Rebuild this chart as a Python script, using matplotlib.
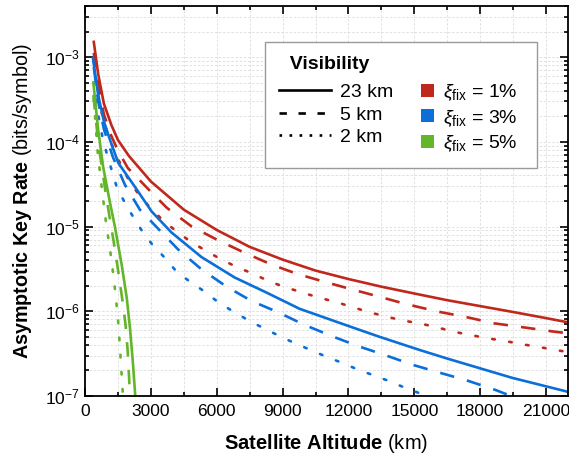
import numpy as np
import matplotlib
matplotlib.use("Agg")
import matplotlib.pyplot as plt
from matplotlib.lines import Line2D
from matplotlib.patches import Patch, Rectangle
from matplotlib.legend_handler import HandlerBase
from matplotlib.ticker import MultipleLocator

#************************** Data *********************
# xi_fix = 1 %
red_solid_x = [400, 600, 860, 1200, 1500, 2000, 3000, 4500, 6000, 7500, 9000, 10500, 12000, 13500, 15000, 16500, 18000, 19500, 21000, 22000]
red_solid_y = [1.51e-3, 6.3e-4, 2.82e-4, 1.58e-4, 1.05e-4, 6.8e-5, 3.4e-5, 1.58e-5, 9.1e-6, 5.75e-6, 4.07e-6, 3.02e-6, 2.4e-6, 1.95e-6, 1.62e-6, 1.35e-6, 1.15e-6, 9.8e-7, 8.3e-7, 7.4e-7]
red_dash_x = [400, 600, 860, 1200, 1500, 1950, 3000, 3730, 4860, 6050, 7270, 8500, 9680, 11000, 12270, 13550, 14550, 16000, 17400, 18640, 19900, 21360, 22000]
red_dash_y = [1.12e-3, 4.7e-4, 2.1e-4, 1.17e-4, 7.9e-5, 4.9e-5, 2.57e-5, 1.66e-5, 1.0e-5, 6.9e-6, 4.9e-6, 3.55e-6, 2.75e-6, 2.19e-6, 1.78e-6, 1.45e-6, 1.23e-6, 1.0e-6, 8.5e-7, 7.2e-7, 6.5e-7, 5.75e-7, 5.5e-7]
red_dot_x = [400, 600, 860, 1360, 2050, 2500, 3050, 3600, 4230, 4860, 5550, 6270, 6950, 7680, 8410, 9180, 9910, 10640, 11410, 12180, 12910, 13680, 14450, 15230, 16000, 16770, 17550, 18320, 19050, 19860, 20640, 21410, 22000]
red_dot_y = [8.9e-4, 3.55e-4, 1.66e-4, 7.4e-5, 3.3e-5, 2.3e-5, 1.58e-5, 1.15e-5, 8.5e-6, 6.5e-6, 5.1e-6, 4.0e-6, 3.3e-6, 2.75e-6, 2.24e-6, 1.9e-6, 1.66e-6, 1.45e-6, 1.29e-6, 1.12e-6, 9.8e-7, 8.7e-7, 7.8e-7, 7.2e-7, 6.5e-7, 5.75e-7, 5.25e-7, 4.8e-7, 4.5e-7, 4.1e-7, 3.8e-7, 3.5e-7, 3.3e-7]

# xi_fix = 3 %
blue_solid_x = [360, 600, 860, 1140, 1520, 2270, 3030, 3940, 5300, 6820, 8270, 9770, 12180, 13410, 15230, 16450, 19450, 22000]
blue_solid_y = [9.8e-4, 3.55e-4, 1.74e-4, 1.05e-4, 5.6e-5, 2.95e-5, 1.51e-5, 8.5e-6, 4.37e-6, 2.5e-6, 1.66e-6, 1.07e-6, 6.45e-7, 5.0e-7, 3.5e-7, 2.79e-7, 1.64e-7, 1.12e-7]
blue_dash_x = [400, 600, 860, 1270, 1820, 2500, 3270, 4230, 5320, 6450, 7590, 8770, 10000, 11230, 12410, 13730, 14910, 16230, 17450, 18730, 19400]
blue_dash_y = [7.6e-4, 3.0e-4, 1.41e-4, 6.6e-5, 3.1e-5, 1.58e-5, 9.8e-6, 5.4e-6, 3.1e-6, 1.95e-6, 1.32e-6, 9.8e-7, 6.9e-7, 5.1e-7, 3.9e-7, 3.0e-7, 2.34e-7, 1.86e-7, 1.51e-7, 1.17e-7, 1.0e-7]
blue_dot_x = [400, 600, 800, 1000, 1450, 1820, 2200, 2640, 3050, 3600, 4140, 4770, 5400, 6050, 6730, 7450, 8140, 8860, 9550, 10270, 11000, 11730, 12450, 13180, 13910, 14640, 15360, 15500]
blue_dot_y = [5.0e-4, 2.1e-4, 1.12e-4, 7.1e-5, 2.9e-5, 1.9e-5, 1.29e-5, 8.5e-6, 6.2e-6, 4.37e-6, 3.0e-6, 2.24e-6, 1.74e-6, 1.29e-6, 1.0e-6, 7.8e-7, 6.3e-7, 5.1e-7, 4.2e-7, 3.5e-7, 2.9e-7, 2.45e-7, 2.04e-7, 1.74e-7, 1.48e-7, 1.23e-7, 1.05e-7, 1.0e-7]

# xi_fix = 5 %
green_solid_x = [380, 600, 830, 1140, 1360, 1670, 1900, 2050, 2180, 2290]
green_solid_y = [5.0e-4, 1.38e-4, 5.0e-5, 1.9e-5, 1.0e-5, 3.55e-6, 1.45e-6, 6.3e-7, 2.5e-7, 1.0e-7]
green_dash_x = [380, 600, 940, 1140, 1300, 1510, 1740, 1850, 1940, 2000, 2050]
green_dash_y = [3.55e-4, 1.0e-4, 2.5e-5, 1.2e-5, 6.8e-6, 3.0e-6, 1.17e-6, 6.8e-7, 3.5e-7, 1.8e-7, 1.0e-7]
green_dot_x = [400, 500, 580, 760, 950, 1180, 1290, 1400, 1510, 1600, 1680, 1730]
green_dot_y = [3.2e-4, 1.41e-4, 7.4e-5, 2.9e-5, 1.15e-5, 4.5e-6, 2.7e-6, 1.51e-6, 7.6e-7, 3.5e-7, 1.6e-7, 1.0e-7]

vis_labels = ["23 km", "5 km", "2 km"]
xi_labels = [r"$\xi_{\mathrm{fix}}$ = 1%  ", r"$\xi_{\mathrm{fix}}$ = 3%  ", r"$\xi_{\mathrm{fix}}$ = 5%  "]
x_ticks = np.arange(0, 21001, 3000)

#************************** Style *********************
plt.rcParams["font.family"] = "Liberation Sans"
plt.rcParams["mathtext.fontset"] = "custom"
plt.rcParams["mathtext.rm"] = "Liberation Sans"
plt.rcParams["mathtext.it"] = "Liberation Sans:italic"
plt.rcParams["mathtext.bf"] = "Liberation Sans:bold"

red = "#C0281B"
blue = "#0A6FD8"
green = "#63B52A"
lw = 1.9
dash = (0, (5.5, 5))
dot = (0, (1, 5.5))


class SquareHandler(HandlerBase):
    # colour square sitting at the right end of the handle box
    def create_artists(self, legend, orig_handle, xdescent, ydescent, width, height, fontsize, trans):
        side = 9.5
        sq = Rectangle((width - xdescent - side, (height - side) / 2 - ydescent), side, side,
                       facecolor=orig_handle.get_facecolor(), edgecolor="none", transform=trans)
        return [sq]


fig = plt.figure(figsize=(5.69, 4.61), dpi=100)
ax = fig.add_axes([85 / 569, 65 / 461, 483 / 569, 390 / 461])

#************************** Curves *********************
ax.plot(red_solid_x, red_solid_y, color=red, lw=lw)
ax.plot(red_dash_x, red_dash_y, color=red, lw=lw, ls=dash)
ax.plot(red_dot_x, red_dot_y, color=red, lw=lw, ls=dot, dash_capstyle="round")
ax.plot(blue_solid_x, blue_solid_y, color=blue, lw=lw)
ax.plot(blue_dash_x, blue_dash_y, color=blue, lw=lw, ls=dash)
ax.plot(blue_dot_x, blue_dot_y, color=blue, lw=lw, ls=dot, dash_capstyle="round")
ax.plot(green_solid_x, green_solid_y, color=green, lw=lw)
ax.plot(green_dash_x, green_dash_y, color=green, lw=lw, ls=dash)
ax.plot(green_dot_x, green_dot_y, color=green, lw=lw, ls=dot, dash_capstyle="round")

#************************** Axes *********************
ax.set_yscale("log")
ax.set_xlim(0, 22000)
ax.set_ylim(1e-7, 4e-3)
ax.set_xticks(x_ticks)
ax.xaxis.set_minor_locator(MultipleLocator(1500))
ax.grid(which="both", ls=(0, (3, 2)), color="#dcdcdc", lw=0.6)
ax.set_axisbelow(True)
ax.tick_params(which="both", direction="in", top=True, right=True, width=1.2)
ax.tick_params(which="major", length=6, labelsize=12.5)
ax.tick_params(axis="x", which="major", pad=6)
ax.tick_params(which="minor", length=3)
for s in ax.spines.values():
    s.set_linewidth(1.3)

ax.set_xlabel(r"$\mathbf{Satellite\ Altitude}$ (km)", fontsize=14.5, labelpad=9)
ax.set_ylabel(r"$\mathbf{Asymptotic\ Key\ Rate}$ (bits/symbol)", fontsize=14.2, labelpad=8)

#************************** Legend *********************
handles = [Line2D([], [], color="k", lw=lw, ls="-"),
           Line2D([], [], color="k", lw=lw, ls=(0, (2.8, 4.4))),
           Line2D([], [], color="k", lw=lw, ls=(0, (1, 2.8))),
           Patch(facecolor=red), Patch(facecolor=blue), Patch(facecolor=green)]
leg = ax.legend(handles, vis_labels + xi_labels, ncol=2, loc="upper right",
                bbox_to_anchor=((537 - 85) / 483, (396 - 42) / 390), borderaxespad=0,
                fontsize=14, title="  Visibility", title_fontproperties={"weight": "bold", "size": 14},
                alignment="left", fancybox=False, edgecolor="#9a9a9a", framealpha=1,
                handlelength=2.7, handletextpad=0.45, columnspacing=-0.6, labelspacing=0.25,
                borderpad=0.7, handler_map={Patch: SquareHandler()})
leg.get_frame().set_linewidth(1.0)
leg._legend_box.sep = 7

fig.savefig("out.png", dpi=100)
